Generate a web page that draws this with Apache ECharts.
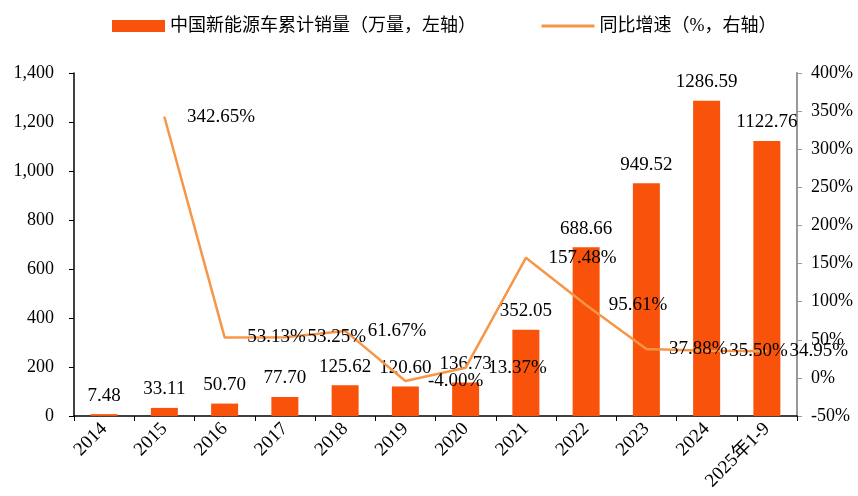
<!DOCTYPE html>
<html>
<head>
	<meta charset="utf-8">
	<title>中国新能源车累计销量</title>
	<style>
		* { margin: 0; padding: 0; }
		html, body { width: 858px; height: 496px; background: #fff; overflow: hidden; }
		#chart { width: 858px; height: 496px; }
	</style>
	<script src="https://cdn.jsdelivr.net/npm/echarts@6/dist/echarts.min.js"></script>
</head>
<body>
<div id="chart"></div>
<script>
	var years = ['2014', '2015', '2016', '2017', '2018', '2019', '2020', '2021', '2022', '2023', '2024', '2025年1-9'];
	var sales = [7.48, 33.11, 50.70, 77.70, 125.62, 120.60, 136.73, 352.05, 688.66, 949.52, 1286.59, 1122.76];
	var growth = [null, 342.65, 53.13, 53.25, 61.67, -4.00, 13.37, 157.48, 95.61, 37.88, 35.50, 34.95];

	var serif = '"Liberation Serif", "Times New Roman", serif';
	var cjk = '"Liberation Serif", "Noto Sans CJK SC", serif';
	var barColor = '#F9530B';
	var lineColor = '#F79646';

	var chart = echarts.init(document.getElementById('chart'));
	chart.setOption({
		animation: false,
		legend: {
			top: 12,
			left: 107,
			itemGap: 64,
			itemWidth: 53,
			itemHeight: 12,
			textStyle: { fontFamily: cjk, fontSize: 18, color: '#000' },
			data: [
				{ name: '中国新能源车累计销量（万量，左轴）', icon: 'rect' },
				{ name: '同比增速（%，右轴）', itemStyle: { opacity: 0 }, lineStyle: { width: 3, color: lineColor } }
			]
		},
		grid: { left: 74, right: 61, top: 73, bottom: 80, containLabel: false },
		xAxis: {
			type: 'category',
			data: years,
			axisLine: { lineStyle: { color: '#000', width: 1.5 } },
			axisTick: { show: true, alignWithLabel: false, length: 5, lineStyle: { color: '#000' } },
			axisLabel: { rotate: 45, interval: 0, fontFamily: cjk, fontSize: 19, color: '#000', margin: 10 }
		},
		yAxis: [
			{
				type: 'value', min: 0, max: 1400, interval: 200,
				axisLine: { show: true, lineStyle: { color: '#000', width: 1.5 } },
				axisTick: { show: true, length: 5, lineStyle: { color: '#000' } },
				splitLine: { show: false },
				axisLabel: {
					fontFamily: serif, fontSize: 18, color: '#000', margin: 20,
					formatter: function (v) { return v.toLocaleString('en-US'); }
				}
			},
			{
				type: 'value', min: -50, max: 400, interval: 50,
				axisLine: { show: true, lineStyle: { color: '#999', width: 2 } },
				axisTick: { show: true, length: 5, lineStyle: { color: '#999' } },
				splitLine: { show: false },
				axisLabel: { fontFamily: serif, fontSize: 18, color: '#000', margin: 14, formatter: '{value}%' }
			}
		],
		series: [
			{
				name: '中国新能源车累计销量（万量，左轴）',
				type: 'bar',
				data: sales,
				barWidth: 27,
				itemStyle: { color: barColor },
				label: {
					show: true, position: 'top', distance: 9,
					fontFamily: serif, fontSize: 19, color: '#000',
					formatter: function (p) { return p.value.toFixed(2); }
				}
			},
			{
				name: '同比增速（%，右轴）',
				type: 'line',
				yAxisIndex: 1,
				data: growth,
				symbol: 'circle',
				symbolSize: 1,
				showSymbol: true,
				lineStyle: { color: lineColor, width: 2.5 },
				itemStyle: { color: lineColor },
				labelLayout: { hideOverlap: false },
				label: {
					show: true, position: 'right', distance: 22,
					fontFamily: serif, fontSize: 19, color: '#000',
					formatter: function (p) { return p.value.toFixed(2) + '%'; }
				}
			}
		]
	});
</script>
</body>
</html>
